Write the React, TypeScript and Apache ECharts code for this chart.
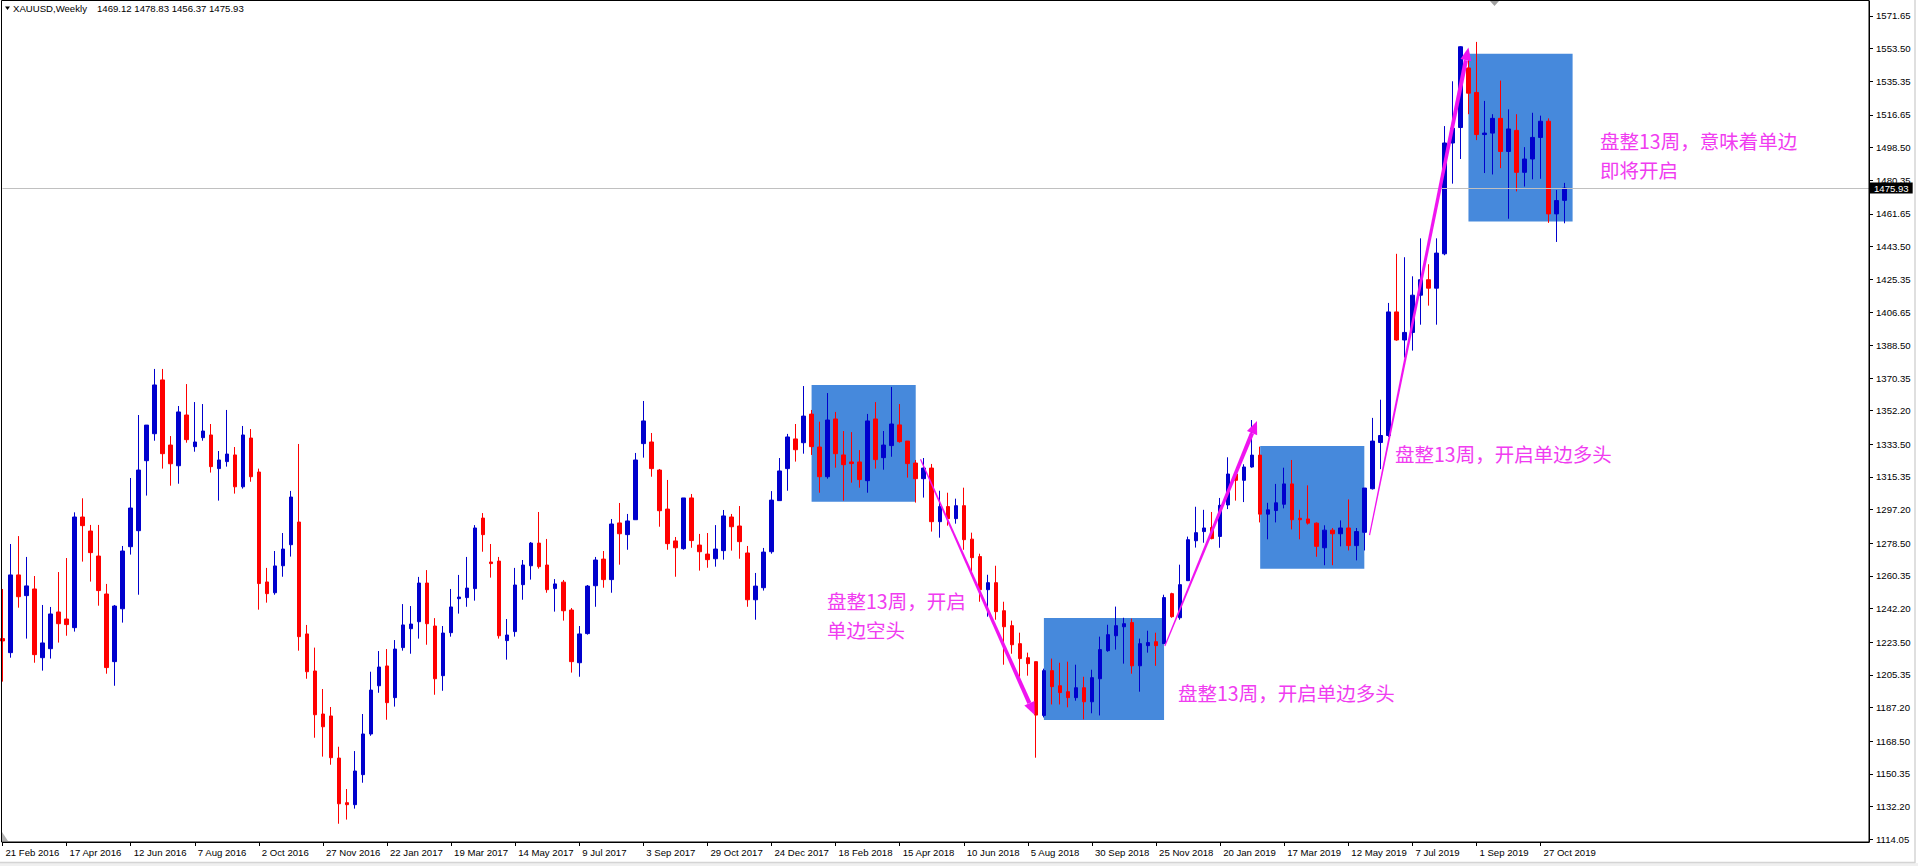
import { useEffect, useRef } from 'react';
import * as echarts from 'echarts';

// ---------- categories (weekly bars, MT4 chart with right-side shift) ----------
const WEEK_COUNT = 234;
const FIRST_WEEK_UTC = Date.UTC(2016, 1, 21);
const MONTHS = ['Jan', 'Feb', 'Mar', 'Apr', 'May', 'Jun', 'Jul', 'Aug', 'Sep', 'Oct', 'Nov', 'Dec'];
const weekLabels: string[] = Array.from({ length: WEEK_COUNT }, (_, i) => {
  const d = new Date(FIRST_WEEK_UTC + i * 7 * 86400000);
  return `${d.getUTCDate()} ${MONTHS[d.getUTCMonth()]} ${d.getUTCFullYear()}`;
});
const LABEL_EVERY = 8;
const LAST_LABEL_INDEX = 192;

// ---------- OHLC values ----------
const opens = [
  1225.5, 1217.7, 1260.9, 1249.4, 1253.1, 1214.9, 1219.9, 1240.3, 1236.4, 1231.6,
  1293.1, 1285.3, 1271.4, 1250.3, 1212.7, 1242.1, 1276.6, 1285.5, 1324.4, 1339.4,
  1369.3, 1333.1, 1321.6, 1349.8, 1332.2, 1337.2, 1338.7, 1320.0, 1323.9, 1327.6,
  1309.9, 1337.0, 1318.1, 1257.0, 1251.0, 1266.0, 1277.7, 1290.3, 1228.1, 1207.5,
  1183.6, 1182.5, 1159.1, 1134.3, 1133.2, 1149.9, 1172.5, 1199.3, 1210.3, 1192.7,
  1220.5, 1231.0, 1234.9, 1256.4, 1232.5, 1204.9, 1228.8, 1247.7, 1248.3, 1253.3,
  1292.5, 1268.1, 1268.6, 1224.4, 1229.4, 1255.5, 1266.0, 1278.6, 1266.4, 1253.3,
  1256.9, 1241.4, 1212.1, 1228.3, 1254.9, 1269.7, 1258.3, 1289.8, 1283.3, 1291.6,
  1333.9, 1334.8, 1319.2, 1297.5, 1279.8, 1275.5, 1303.7, 1277.5, 1272.5, 1269.9,
  1274.4, 1293.1, 1288.1, 1273.1, 1247.1, 1253.8, 1273.8, 1302.2, 1320.0, 1336.5,
  1334.4, 1350.3, 1332.0, 1315.5, 1347.6, 1327.6, 1323.7, 1323.7, 1313.3, 1347.6,
  1326.1, 1332.8, 1344.3, 1335.3, 1323.1, 1314.4, 1320.3, 1290.5, 1298.9, 1292.2,
  1299.4, 1280.8, 1271.1, 1252.7, 1256.6, 1241.0, 1232.7, 1222.7, 1214.9, 1212.7,
  1182.8, 1207.7, 1199.3, 1196.0, 1192.7, 1198.2, 1190.4, 1203.2, 1218.8, 1227.1,
  1232.1, 1234.4, 1210.4, 1221.6, 1223.8, 1222.7, 1250.5, 1237.1, 1257.7, 1279.9,
  1285.0, 1287.3, 1282.3, 1299.8, 1317.0, 1313.5, 1320.9, 1327.5, 1294.7, 1296.7,
  1300.2, 1311.5, 1292.4, 1292.0, 1289.7, 1276.0, 1285.8, 1283.8, 1287.0, 1277.2,
  1284.6, 1308.8, 1334.5, 1338.4, 1407.1, 1391.5, 1395.7, 1416.4, 1425.0, 1420.3,
  1439.4, 1501.0, 1509.6, 1542.7, 1529.1, 1505.7, 1506.5, 1514.7, 1496.3, 1508.0,
  1484.7, 1492.1, 1504.1, 1513.1, 1461.6, 1469.12,
];
const closes = [
  1224.2, 1260.9, 1248.8, 1254.8, 1216.6, 1223.1, 1239.2, 1233.8, 1233.3, 1293.1,
  1288.3, 1273.3, 1252.2, 1209.4, 1243.6, 1274.2, 1298.1, 1319.2, 1344.2, 1366.5,
  1328.3, 1322.7, 1351.5, 1336.1, 1334.8, 1340.9, 1321.1, 1324.8, 1328.1, 1309.9,
  1338.7, 1315.5, 1256.1, 1250.5, 1265.9, 1275.3, 1304.2, 1226.6, 1207.1, 1183.2,
  1176.5, 1159.3, 1133.7, 1133.2, 1151.9, 1172.5, 1196.9, 1209.7, 1189.9, 1219.7,
  1233.1, 1233.6, 1256.4, 1233.8, 1203.2, 1228.6, 1243.1, 1248.6, 1253.6, 1287.0,
  1283.3, 1267.2, 1227.1, 1227.5, 1255.3, 1266.4, 1278.6, 1265.5, 1252.7, 1255.9,
  1241.0, 1212.7, 1228.1, 1254.7, 1269.2, 1258.3, 1289.2, 1283.8, 1290.9, 1324.8,
  1346.5, 1320.0, 1296.6, 1278.3, 1276.0, 1303.7, 1280.0, 1273.8, 1269.4, 1275.3,
  1293.7, 1287.7, 1279.4, 1247.1, 1254.7, 1273.6, 1302.5, 1318.7, 1337.6, 1330.5,
  1349.2, 1332.2, 1315.5, 1347.0, 1328.3, 1322.2, 1322.8, 1313.9, 1346.5, 1325.0,
  1333.1, 1344.8, 1335.0, 1322.8, 1314.4, 1320.3, 1290.5, 1298.9, 1292.2, 1299.4,
  1280.5, 1270.5, 1252.7, 1256.6, 1240.5, 1232.1, 1222.1, 1214.4, 1211.6, 1183.0,
  1207.7, 1198.8, 1195.5, 1192.7, 1198.2, 1190.4, 1203.8, 1219.4, 1227.7, 1232.7,
  1233.8, 1210.4, 1222.7, 1223.3, 1221.6, 1248.3, 1237.7, 1255.5, 1280.5, 1284.4,
  1287.0, 1281.1, 1299.6, 1317.0, 1313.5, 1320.9, 1327.5, 1294.7, 1297.1, 1301.0,
  1311.5, 1291.6, 1291.6, 1289.7, 1276.8, 1285.8, 1283.8, 1287.0, 1277.2, 1285.0,
  1309.2, 1335.3, 1338.4, 1407.1, 1391.5, 1395.7, 1416.4, 1425.0, 1420.3, 1439.8,
  1501.0, 1509.2, 1554.5, 1528.7, 1505.7, 1506.5, 1514.7, 1496.3, 1508.8, 1484.7,
  1492.1, 1504.1, 1513.1, 1461.6, 1469.0, 1475.93,
];
const lows = [
  1201.6, 1214.9, 1242.7, 1225.5, 1212.1, 1207.7, 1214.4, 1223.3, 1227.1, 1229.4,
  1268.3, 1257.2, 1243.8, 1206.0, 1199.3, 1234.4, 1272.2, 1249.9, 1305.0, 1335.5,
  1320.0, 1310.5, 1311.6, 1334.4, 1329.4, 1335.5, 1317.8, 1302.2, 1321.1, 1306.1,
  1308.9, 1312.7, 1241.6, 1245.5, 1249.9, 1259.9, 1271.1, 1218.8, 1203.2, 1170.4,
  1159.9, 1155.4, 1122.6, 1124.9, 1131.0, 1145.4, 1171.5, 1195.4, 1180.4, 1187.7,
  1218.8, 1217.1, 1225.5, 1222.1, 1194.3, 1196.5, 1226.6, 1239.4, 1243.2, 1246.6,
  1273.8, 1259.4, 1225.5, 1213.8, 1226.6, 1247.1, 1258.3, 1264.4, 1251.0, 1240.5,
  1235.5, 1206.6, 1204.3, 1227.7, 1243.2, 1253.8, 1251.0, 1266.6, 1274.9, 1291.6,
  1326.1, 1315.5, 1287.7, 1274.9, 1259.9, 1274.9, 1276.0, 1263.3, 1264.9, 1265.5,
  1269.4, 1274.4, 1269.9, 1243.2, 1236.0, 1252.2, 1272.7, 1302.2, 1307.7, 1323.9,
  1328.3, 1327.6, 1306.6, 1314.4, 1320.5, 1302.2, 1312.2, 1309.4, 1306.6, 1320.0,
  1319.4, 1326.6, 1334.4, 1315.0, 1301.1, 1303.9, 1285.0, 1281.6, 1288.3, 1289.4,
  1274.9, 1262.7, 1246.0, 1237.7, 1236.0, 1211.0, 1217.1, 1204.3, 1204.9, 1159.3,
  1181.7, 1188.9, 1188.9, 1187.3, 1191.0, 1180.6, 1184.0, 1182.8, 1218.2, 1219.4,
  1211.6, 1206.0, 1196.0, 1217.7, 1210.4, 1222.7, 1237.1, 1236.0, 1257.7, 1276.1,
  1278.8, 1280.7, 1276.0, 1297.5, 1302.2, 1301.4, 1320.5, 1290.1, 1280.7, 1290.1,
  1297.9, 1286.2, 1280.7, 1288.9, 1271.0, 1266.3, 1266.3, 1276.8, 1274.5, 1269.0,
  1274.5, 1308.4, 1319.7, 1337.6, 1391.1, 1381.7, 1385.6, 1400.0, 1410.6, 1400.0,
  1438.6, 1478.4, 1492.1, 1517.0, 1502.6, 1484.3, 1483.5, 1487.0, 1458.9, 1474.1,
  1476.8, 1480.8, 1481.1, 1456.6, 1446.0, 1456.37,
];
const highs = [
  1253.1, 1278.1, 1282.5, 1270.9, 1260.3, 1244.2, 1243.1, 1262.5, 1270.3, 1295.7,
  1303.5, 1288.7, 1288.7, 1255.9, 1244.2, 1277.0, 1314.8, 1349.8, 1344.2, 1375.4,
  1375.4, 1338.1, 1354.8, 1367.0, 1357.0, 1355.9, 1344.8, 1329.8, 1352.6, 1332.0,
  1343.7, 1342.0, 1320.0, 1264.8, 1274.2, 1284.2, 1307.6, 1333.7, 1233.1, 1220.5,
  1197.5, 1187.5, 1165.4, 1141.9, 1163.0, 1183.6, 1207.1, 1218.6, 1219.7, 1224.7,
  1244.7, 1243.6, 1259.8, 1263.6, 1236.9, 1232.5, 1253.1, 1260.9, 1270.9, 1288.6,
  1295.3, 1278.1, 1270.9, 1236.4, 1264.8, 1269.2, 1279.2, 1295.9, 1280.9, 1258.6,
  1258.1, 1242.5, 1232.5, 1255.3, 1270.9, 1274.2, 1292.0, 1300.9, 1294.8, 1328.7,
  1357.6, 1339.8, 1319.8, 1313.7, 1282.0, 1303.7, 1305.9, 1283.7, 1284.2, 1288.6,
  1297.0, 1294.8, 1299.2, 1277.0, 1262.0, 1275.9, 1307.5, 1325.9, 1339.3, 1344.8,
  1365.9, 1352.6, 1346.1, 1362.0, 1351.5, 1340.9, 1340.3, 1330.3, 1350.4, 1357.0,
  1340.9, 1365.4, 1355.9, 1335.3, 1324.8, 1325.9, 1322.6, 1307.7, 1306.6, 1303.3,
  1309.4, 1284.4, 1272.7, 1261.0, 1266.0, 1246.0, 1235.5, 1228.8, 1217.7, 1212.7,
  1208.8, 1214.4, 1212.1, 1212.7, 1211.0, 1204.3, 1208.2, 1226.6, 1233.2, 1243.3,
  1237.1, 1236.6, 1225.5, 1229.9, 1228.8, 1249.9, 1251.0, 1266.6, 1282.2, 1298.8,
  1297.1, 1295.9, 1303.7, 1326.3, 1317.0, 1322.4, 1347.0, 1332.2, 1301.0, 1311.5,
  1320.5, 1324.8, 1297.1, 1310.7, 1290.1, 1288.5, 1287.0, 1291.2, 1302.9, 1287.0,
  1309.2, 1348.2, 1358.3, 1412.1, 1439.4, 1437.5, 1426.9, 1448.0, 1433.6, 1448.0,
  1510.4, 1535.3, 1554.8, 1548.2, 1557.2, 1524.4, 1517.0, 1535.7, 1519.7, 1517.0,
  1498.7, 1517.8, 1516.2, 1514.7, 1474.9, 1478.83,
];

// ---------- price axis tick labels ----------
const priceTicks = [
  1114.05, 1132.2, 1150.35, 1168.5, 1187.2, 1205.35, 1223.5, 1242.2, 1260.35, 1278.5,
  1297.2, 1315.35, 1333.5, 1352.2, 1370.35, 1388.5, 1406.65, 1425.35, 1443.5, 1461.65,
  1480.35, 1498.5, 1516.65, 1535.35, 1553.5, 1571.65,
];
const PRICE_MIN = 1112.45;
const PRICE_MAX = 1579.93;
const lastPrice = 1475.93;
const titleSymbol = 'XAUUSD,Weekly';
const titleQuote = '1469.12 1478.83 1456.37 1475.93';

// ---------- annotations (bar index, price) ----------
const boxFrom = [101, 130, 157, 183];
const boxTo = [114, 145, 170, 196];
const boxTop = [1366.5, 1236.9, 1332.6, 1550.55];
const boxBottom = [1301.6, 1180.3, 1264.3, 1457.4];

const arrowFromIdx = [114.6, 145.1, 170.65];
const arrowFromPrice = [1325.2, 1221.4, 1283.0];
const arrowToIdx = [128.85, 156.6, 183.0];
const arrowToPrice = [1183.0, 1346.4, 1554.1];

const noteLines = [
  ['盘整13周，开启', '单边空头'],
  ['盘整13周，开启单边多头'],
  ['盘整13周，开启单边多头'],
  ['盘整13周，意味着单边', '即将开启'],
];

const W = 1918;
const H = 866;
const GRID_LEFT = 2.5;
const GRID_RIGHT_X = 1869;
const GRID_TOP = 1;
const GRID_BOTTOM_Y = 842;
// left x and centre y of each note's first line
const NOTE_POS = [
  [827, 600.5],
  [1178, 692],
  [1395, 453],
  [1600, 140.5],
];
const NOTE_LINE_GAP = 28.5;
const NOTE_FONT_SIZE = 19.5;

const BULL = '#0000cd';
const BEAR = '#ff0000';
const BOX_COLOR = '#4689dc';
const ARROW_COLOR = '#f014f0';
const NOTE_COLOR = '#f03cf0';
const AXIS_FONT = '"Liberation Sans", Arial, sans-serif';
const CJK_FONT = '"Noto Sans CJK SC", sans-serif';

export default function App() {
  const ref = useRef<HTMLDivElement>(null);

  useEffect(() => {
    if (!ref.current) return;
    const chart = echarts.init(ref.current, null, { renderer: 'svg', width: W, height: H });

    const ohlc = opens.map((o, i) => [o, closes[i], lows[i], highs[i]]);
    const showLabel = (i: number) => i % LABEL_EVERY === 0 && i <= LAST_LABEL_INDEX;

    chart.setOption({
      animation: false,
      backgroundColor: '#ffffff',
      grid: {
        left: GRID_LEFT,
        right: W - GRID_RIGHT_X,
        top: GRID_TOP,
        bottom: H - GRID_BOTTOM_Y,
        containLabel: false,
        outerBoundsMode: 'none',
      },
      xAxis: {
        type: 'category',
        data: weekLabels,
        boundaryGap: false,
        axisLine: { show: true, lineStyle: { color: '#000', width: 1 } },
        axisTick: {
          show: true,
          length: 4,
          interval: (i: number) => showLabel(i),
          lineStyle: { color: '#000' },
        },
        axisLabel: {
          interval: (i: number) => showLabel(i),
          align: 'left',
          margin: 5,
          padding: [0, 0, 0, 3],
          color: '#000',
          fontSize: 9.6,
          fontFamily: AXIS_FONT,
        },
        splitLine: { show: false },
      },
      yAxis: {
        type: 'value',
        position: 'right',
        min: PRICE_MIN,
        max: PRICE_MAX,
        axisLine: { show: true, lineStyle: { color: '#000', width: 1 } },
        axisTick: {
          show: true,
          length: 4,
          customValues: priceTicks,
          lineStyle: { color: '#000' },
        },
        axisLabel: {
          customValues: priceTicks,
          formatter: (v: number) => v.toFixed(2),
          margin: 7,
          color: '#000',
          fontSize: 9.6,
          fontFamily: AXIS_FONT,
        },
        splitLine: { show: false },
      },
      series: [
        {
          type: 'candlestick',
          data: ohlc,
          barWidth: 4,
          clip: true,
          itemStyle: {
            color: BULL,
            color0: BEAR,
            borderColor: BULL,
            borderColor0: BEAR,
            borderWidth: 1,
          },
          markArea: {
            silent: true,
            itemStyle: { color: BOX_COLOR, opacity: 1 },
            data: boxFrom.map((f, i) => [
              { xAxis: f, yAxis: boxTop[i] },
              { xAxis: boxTo[i], yAxis: boxBottom[i] },
            ]),
          },
          markLine: {
            silent: true,
            symbol: 'none',
            lineStyle: { color: '#c0c0c0', width: 1, type: 'solid' },
            label: {
              show: true,
              position: 'end',
              distance: 1,
              formatter: lastPrice.toFixed(2),
              backgroundColor: '#000',
              color: '#fff',
              padding: [1, 4, 0, 4],
              fontSize: 9.6,
              fontFamily: AXIS_FONT,
            },
            data: [{ yAxis: lastPrice }],
          },
        },
      ],
    });

    const toPx = (idx: number, price: number) => {
      const a = chart.convertToPixel({ gridIndex: 0 }, [0, price]) as number[];
      const b = chart.convertToPixel({ gridIndex: 0 }, [1, price]) as number[];
      return [a[0] + idx * (b[0] - a[0]), a[1]];
    };

    const graphics: any[] = [];

    // chart frame
    graphics.push({
      type: 'rect',
      shape: { x: 1.5, y: 0.5, width: GRID_RIGHT_X - 1.5, height: GRID_BOTTOM_Y - 0.5 },
      style: { fill: 'none', stroke: '#000', lineWidth: 1 },
      silent: true,
      z: 50,
    });
    // window border
    graphics.push({
      type: 'rect',
      shape: { x: 0, y: 863, width: W, height: 3 },
      style: { fill: '#f0f0f0' },
      silent: true,
    });
    graphics.push({
      type: 'line',
      shape: { x1: 0, y1: 862.5, x2: 1915, y2: 862.5 },
      style: { stroke: '#d4d4d4', lineWidth: 1.5 },
      silent: true,
    });
    graphics.push({
      type: 'line',
      shape: { x1: 1915, y1: 0, x2: 1915, y2: 863 },
      style: { stroke: '#d4d4d4', lineWidth: 1.5 },
      silent: true,
    });
    // chart shift marker & small corner marker
    graphics.push({
      type: 'polygon',
      shape: { points: [[1490, 1], [1499, 1], [1494.5, 6]] },
      style: { fill: '#a0a0a0' },
      silent: true,
      z: 60,
    });
    graphics.push({
      type: 'polygon',
      shape: { points: [[2, 832], [2, 841], [8, 841]] },
      style: { fill: '#b0b0b0' },
      silent: true,
      z: 60,
    });

    // title
    graphics.push({
      type: 'polygon',
      shape: { points: [[5, 6.5], [10, 6.5], [7.5, 10]] },
      style: { fill: '#000' },
      silent: true,
      z: 60,
    });
    graphics.push({
      type: 'text',
      x: 13,
      y: 8.5,
      style: { text: titleSymbol, fill: '#000', fontSize: 9.6, fontFamily: AXIS_FONT, verticalAlign: 'middle' },
      silent: true,
      z: 60,
    });
    graphics.push({
      type: 'text',
      x: 97,
      y: 8.5,
      style: { text: titleQuote, fill: '#000', fontSize: 9.6, fontFamily: AXIS_FONT, verticalAlign: 'middle' },
      silent: true,
      z: 60,
    });

    // arrows
    arrowFromIdx.forEach((fi, k) => {
      const S = toPx(fi, arrowFromPrice[k]);
      const T = toPx(arrowToIdx[k], arrowToPrice[k]);
      const dx = T[0] - S[0];
      const dy = T[1] - S[1];
      const len = Math.hypot(dx, dy);
      const ux = dx / len;
      const uy = dy / len;
      const nx = -uy;
      const ny = ux;
      const headLen = 13;
      const headHalf = 5.5;
      const w0 = 0.6;
      const w1 = 2.1;
      const B = [T[0] - ux * headLen, T[1] - uy * headLen];
      graphics.push({
        type: 'polygon',
        shape: {
          points: [
            [S[0] + nx * w0, S[1] + ny * w0],
            [B[0] + nx * w1, B[1] + ny * w1],
            [B[0] - nx * w1, B[1] - ny * w1],
            [S[0] - nx * w0, S[1] - ny * w0],
          ],
        },
        style: { fill: ARROW_COLOR },
        silent: true,
        z: 70,
      });
      graphics.push({
        type: 'polygon',
        shape: {
          points: [
            [T[0], T[1]],
            [B[0] + nx * headHalf, B[1] + ny * headHalf],
            [B[0] - nx * headHalf, B[1] - ny * headHalf],
          ],
        },
        style: { fill: ARROW_COLOR },
        silent: true,
        z: 70,
      });
    });

    // notes: each line is its own text, spaced so that their boxes do not overlap
    noteLines.forEach((lines, k) => {
      lines.forEach((line, j) => {
        graphics.push({
          type: 'text',
          x: NOTE_POS[k][0],
          y: NOTE_POS[k][1] + j * NOTE_LINE_GAP,
          style: {
            text: line,
            fill: NOTE_COLOR,
            fontSize: NOTE_FONT_SIZE,
            lineHeight: NOTE_FONT_SIZE + 2,
            fontFamily: CJK_FONT,
            verticalAlign: 'middle',
          },
          silent: true,
          z: 80,
        });
      });
    });

    chart.setOption({ graphic: graphics });

    return () => chart.dispose();
  }, []);

  return (
    <div
      ref={ref}
      style={{ position: 'absolute', left: 0, top: 0, width: W, height: H, background: '#fff' }}
    />
  );
}
